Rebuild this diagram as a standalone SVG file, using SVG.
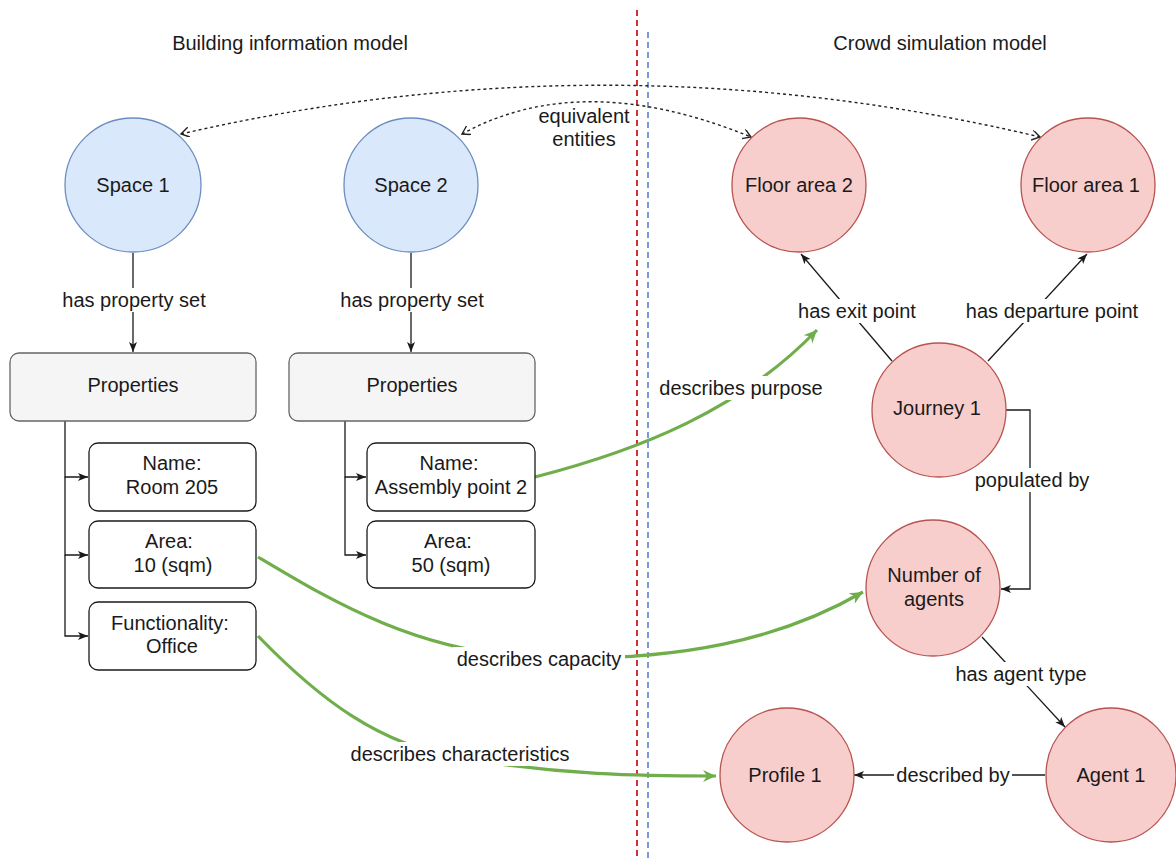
<svg xmlns="http://www.w3.org/2000/svg" width="1176" height="860" viewBox="0 0 1176 860">
  <style>
    text { font-family: "Liberation Sans", Arial, sans-serif; font-size: 20px; fill: #1a1a1a; text-anchor: middle; }
    .bim { fill: #dae8fc; stroke: #6c8ebf; stroke-width: 1.3; }
    .csm { fill: #f8cecc; stroke: #b85450; stroke-width: 1.3; }
    .pset { fill: #f5f5f5; stroke: #666666; stroke-width: 1.3; }
    .prop { fill: #ffffff; stroke: #1a1a1a; stroke-width: 1.3; }
    .edge { fill: none; stroke: #1a1a1a; stroke-width: 1.3; }
    .map { fill: none; stroke: #6fae4a; stroke-width: 3.2; }
    .equiv { fill: none; stroke: #222222; stroke-width: 1.4; stroke-dasharray: 3 3; }
    .lbl { fill: #ffffff; stroke: none; }
  </style>
  <defs>
    <marker id="arrow" markerUnits="userSpaceOnUse" markerWidth="12" markerHeight="10" refX="10" refY="4" orient="auto">
      <path d="M0,0 L10,4 L0,8 L2.5,4 z" fill="#1a1a1a"/>
    </marker>
    <marker id="garrow" markerUnits="userSpaceOnUse" markerWidth="16" markerHeight="14" refX="13" refY="6" orient="auto">
      <path d="M0,0 L13,6 L0,12 L4,6 z" fill="#6fae4a"/>
    </marker>
    <marker id="open" markerUnits="userSpaceOnUse" markerWidth="12" markerHeight="12" refX="8" refY="5" orient="auto-start-reverse">
      <path d="M0,0 L8,5 L0,10" fill="none" stroke="#222222" stroke-width="1.4"/>
    </marker>
  </defs>

  <rect width="1176" height="860" fill="#ffffff"/>

  <!-- section titles -->
  <text x="290" y="50">Building information model</text>
  <text x="940" y="50">Crowd simulation model</text>

  <!-- section dividers -->
  <line x1="637" y1="10" x2="637" y2="860" stroke="#cc3333" stroke-width="2" stroke-dasharray="6 4"/>
  <line x1="648" y1="32" x2="648" y2="860" stroke="#4a7ad0" stroke-width="1.5" stroke-dasharray="6 4"/>

  <!-- connectors -->
  <g id="connectors">
    <!-- equivalence arcs -->
    <path class="equiv" d="M181,134 Q610,35 1040,137" marker-start="url(#open)" marker-end="url(#open)"/>
    <path class="equiv" d="M462,134 Q582,68 751,137" marker-start="url(#open)" marker-end="url(#open)"/>
    <text x="584" y="123">equivalent</text>
    <text x="584" y="146">entities</text>

    <!-- space to property set -->
    <line class="edge" x1="133" y1="253" x2="133" y2="352" marker-end="url(#arrow)"/>
    <rect class="lbl" x="60" y="288" width="148" height="24"/>
    <text x="134" y="307">has property set</text>
    <line class="edge" x1="411" y1="253" x2="411" y2="352" marker-end="url(#arrow)"/>
    <rect class="lbl" x="338" y="288" width="148" height="24"/>
    <text x="412" y="307">has property set</text>

    <!-- property trees -->
    <path class="edge" d="M65,421 V477 H88" marker-end="url(#arrow)"/>
    <path class="edge" d="M65,477 V555 H88" marker-end="url(#arrow)"/>
    <path class="edge" d="M65,555 V636 H88" marker-end="url(#arrow)"/>
    <path class="edge" d="M345,421 V477 H366" marker-end="url(#arrow)"/>
    <path class="edge" d="M345,477 V555 H366" marker-end="url(#arrow)"/>

    <!-- journey relations -->
    <line class="edge" x1="892" y1="361" x2="801" y2="254" marker-end="url(#arrow)"/>
    <rect class="lbl" x="793" y="299" width="128" height="24"/>
    <text x="857" y="318">has exit point</text>
    <line class="edge" x1="988" y1="361" x2="1087" y2="254" marker-end="url(#arrow)"/>
    <rect class="lbl" x="962" y="299" width="180" height="24"/>
    <text x="1052" y="318">has departure point</text>
    <path class="edge" d="M1005,410 H1030 V589 H1001" marker-end="url(#arrow)"/>
    <rect class="lbl" x="974" y="468" width="116" height="24"/>
    <text x="1032" y="487">populated by</text>
    <line class="edge" x1="982" y1="637" x2="1065" y2="727" marker-end="url(#arrow)"/>
    <rect class="lbl" x="954" y="662" width="134" height="24"/>
    <text x="1021" y="681">has agent type</text>
    <line class="edge" x1="1045" y1="775" x2="854" y2="775" marker-end="url(#arrow)"/>
    <rect class="lbl" x="894" y="763" width="118" height="24"/>
    <text x="953" y="782">described by</text>

    <!-- mappings between models -->
    <path class="map" d="M535,477 C640,450 740,410 817,330" marker-end="url(#garrow)"/>
    <rect class="lbl" x="657" y="376" width="170" height="24"/>
    <text x="741" y="395">describes purpose</text>
    <path class="map" d="M258,557 C330,600 420,655 545,658 C680,661 780,640 863,592" marker-end="url(#garrow)"/>
    <rect class="lbl" x="453" y="647" width="172" height="24"/>
    <text x="539" y="666">describes capacity</text>
    <path class="map" d="M258,636 C320,700 380,745 460,758 C560,775 640,776 716,776" marker-end="url(#garrow)"/>
    <rect class="lbl" x="344" y="742" width="232" height="24"/>
    <text x="460" y="761">describes characteristics</text>
  </g>

  <!-- building information model -->
  <g id="space1">
    <ellipse class="bim" cx="133" cy="185" rx="68" ry="67"/>
    <text x="133" y="192">Space 1</text>
  </g>
  <g id="space2">
    <ellipse class="bim" cx="411" cy="185" rx="67" ry="67"/>
    <text x="411" y="192">Space 2</text>
  </g>
  <g id="properties1">
    <rect class="pset" x="10" y="353" width="246" height="68" rx="9"/>
    <text x="133" y="392">Properties</text>
  </g>
  <g id="properties2">
    <rect class="pset" x="289" y="353" width="246" height="68" rx="9"/>
    <text x="412" y="392">Properties</text>
  </g>
  <g id="name1">
    <rect class="prop" x="89" y="443" width="167" height="68" rx="9"/>
    <text x="172" y="470">Name:</text>
    <text x="172" y="494">Room 205</text>
  </g>
  <g id="area1">
    <rect class="prop" x="89" y="521" width="167" height="67" rx="9"/>
    <text x="169" y="548">Area:</text>
    <text x="173" y="572">10 (sqm)</text>
  </g>
  <g id="function1">
    <rect class="prop" x="89" y="602" width="167" height="68" rx="9"/>
    <text x="170" y="630">Functionality:</text>
    <text x="172" y="653">Office</text>
  </g>
  <g id="name2">
    <rect class="prop" x="367" y="443" width="168" height="68" rx="9"/>
    <text x="449" y="470">Name:</text>
    <text x="451" y="494">Assembly point 2</text>
  </g>
  <g id="area2">
    <rect class="prop" x="367" y="521" width="168" height="67" rx="9"/>
    <text x="448" y="548">Area:</text>
    <text x="451" y="572">50 (sqm)</text>
  </g>

  <!-- crowd simulation model -->
  <g id="floor2">
    <ellipse class="csm" cx="799" cy="185" rx="67" ry="67"/>
    <text x="799" y="192">Floor area 2</text>
  </g>
  <g id="floor1">
    <ellipse class="csm" cx="1088" cy="185" rx="67" ry="67"/>
    <text x="1086" y="192">Floor area 1</text>
  </g>
  <g id="journey1">
    <ellipse class="csm" cx="939" cy="410" rx="67" ry="67"/>
    <text x="937" y="415">Journey 1</text>
  </g>
  <g id="agents">
    <ellipse class="csm" cx="933" cy="588" rx="67" ry="68"/>
    <text x="934" y="582">Number of</text>
    <text x="934" y="606">agents</text>
  </g>
  <g id="profile1">
    <ellipse class="csm" cx="787" cy="775" rx="67" ry="67"/>
    <text x="785" y="782">Profile 1</text>
  </g>
  <g id="agent1">
    <ellipse class="csm" cx="1111" cy="775" rx="65" ry="67"/>
    <text x="1111" y="782">Agent 1</text>
  </g>
</svg>
